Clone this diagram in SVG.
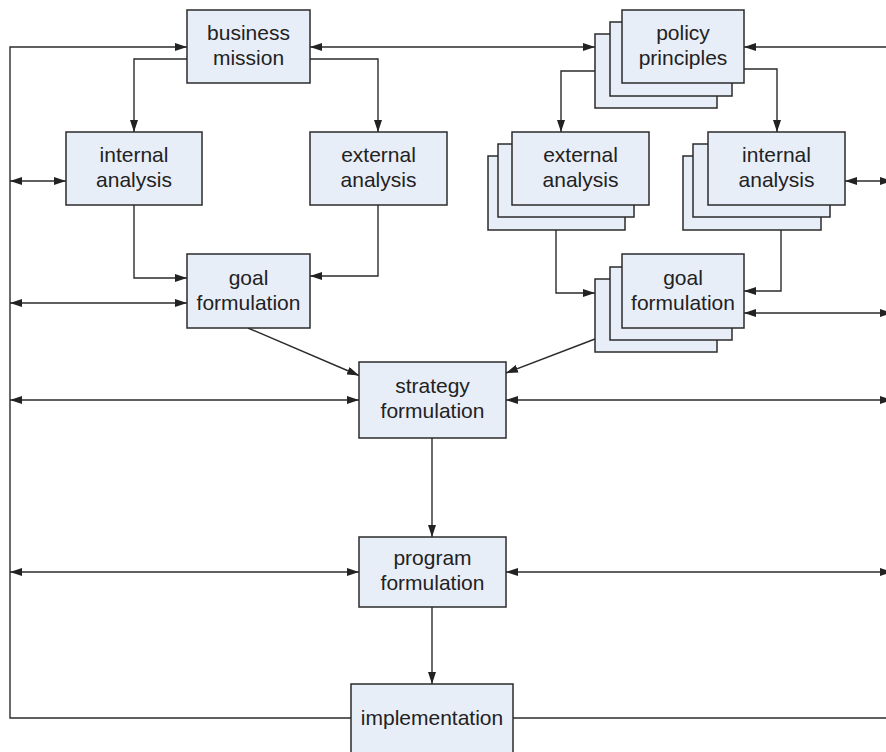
<svg xmlns="http://www.w3.org/2000/svg" width="886" height="752" viewBox="0 0 886 752">
<defs>
<style>
.box{fill:#e8eef8;stroke:#2b2b2b;stroke-width:1.5}
.ln{fill:none;stroke:#2b2b2b;stroke-width:1.4}
.t{font-family:"Liberation Sans",Arial,sans-serif;font-size:21px;fill:#222;text-anchor:middle}
</style>
<marker id="ah" viewBox="0 0 12 8" markerWidth="12" markerHeight="8" refX="12" refY="4" orient="auto-start-reverse" markerUnits="userSpaceOnUse">
<path d="M0,0 L12,4 L0,8 z" fill="#222"/>
</marker>
</defs>
<rect width="886" height="752" fill="#fff"/>
<g id="connectors">
<path class="ln" d="M351,718 H10 V47 H187" marker-end="url(#ah)"/>
<path class="ln" d="M513,718 H886"/>
<path class="ln" d="M10,181 H66" marker-start="url(#ah)" marker-end="url(#ah)"/>
<path class="ln" d="M10,303 H187" marker-start="url(#ah)" marker-end="url(#ah)"/>
<path class="ln" d="M10,400 H359" marker-start="url(#ah)" marker-end="url(#ah)"/>
<path class="ln" d="M10,572 H359" marker-start="url(#ah)" marker-end="url(#ah)"/>
<path class="ln" d="M310,47 H595" marker-start="url(#ah)" marker-end="url(#ah)"/>
<path class="ln" d="M886,47 H744" marker-end="url(#ah)"/>
<path class="ln" d="M845,181 H892" marker-start="url(#ah)" marker-end="url(#ah)"/>
<path class="ln" d="M744,313 H892" marker-start="url(#ah)" marker-end="url(#ah)"/>
<path class="ln" d="M506,400 H892" marker-start="url(#ah)" marker-end="url(#ah)"/>
<path class="ln" d="M506,572 H892" marker-start="url(#ah)" marker-end="url(#ah)"/>
<path class="ln" d="M187,59 H134 V132" marker-end="url(#ah)"/>
<path class="ln" d="M310,59 H378 V132" marker-end="url(#ah)"/>
<path class="ln" d="M134,205 V278 H187" marker-end="url(#ah)"/>
<path class="ln" d="M378,205 V276 H310" marker-end="url(#ah)"/>
<path class="ln" d="M595,71 H561 V132" marker-end="url(#ah)"/>
<path class="ln" d="M744,69 H777 V132" marker-end="url(#ah)"/>
<path class="ln" d="M556,230 V293 H595" marker-end="url(#ah)"/>
<path class="ln" d="M781,230 V291 H744" marker-end="url(#ah)"/>
<path class="ln" d="M248,328 L359,375.5" marker-end="url(#ah)"/>
<path class="ln" d="M595,339 L506,373" marker-end="url(#ah)"/>
<path class="ln" d="M432,438 V537" marker-end="url(#ah)"/>
<path class="ln" d="M432,607 V684" marker-end="url(#ah)"/>
</g>
<g id="business-mission">
<rect class="box" x="187" y="10" width="123" height="73"/>
<text class="t" x="248.5" y="40">business</text>
<text class="t" x="248.5" y="65">mission</text>
</g>
<g id="internal-analysis-left">
<rect class="box" x="66" y="132" width="136" height="73"/>
<text class="t" x="134" y="162">internal</text>
<text class="t" x="134" y="187">analysis</text>
</g>
<g id="external-analysis-left">
<rect class="box" x="310" y="132" width="137" height="73"/>
<text class="t" x="378.5" y="162">external</text>
<text class="t" x="378.5" y="187">analysis</text>
</g>
<g id="goal-formulation-left">
<rect class="box" x="187" y="254" width="123" height="74"/>
<text class="t" x="248.5" y="285">goal</text>
<text class="t" x="248.5" y="310">formulation</text>
</g>
<g id="policy-principles">
<rect class="box" x="595" y="34" width="122" height="74"/>
<rect class="box" x="610" y="22" width="122" height="74"/>
<rect class="box" x="622" y="10" width="122" height="73"/>
<text class="t" x="683" y="40">policy</text>
<text class="t" x="683" y="65">principles</text>
</g>
<g id="external-analysis-right">
<rect class="box" x="488" y="156" width="137" height="74"/>
<rect class="box" x="498" y="144" width="136" height="73"/>
<rect class="box" x="512" y="132" width="137" height="73"/>
<text class="t" x="580.5" y="162">external</text>
<text class="t" x="580.5" y="187">analysis</text>
</g>
<g id="internal-analysis-right">
<rect class="box" x="683" y="156" width="138" height="74"/>
<rect class="box" x="693" y="144" width="137" height="73"/>
<rect class="box" x="708" y="132" width="137" height="73"/>
<text class="t" x="776.5" y="162">internal</text>
<text class="t" x="776.5" y="187">analysis</text>
</g>
<g id="goal-formulation-right">
<rect class="box" x="595" y="279" width="122" height="73"/>
<rect class="box" x="610" y="267" width="122" height="73"/>
<rect class="box" x="622" y="254" width="122" height="74"/>
<text class="t" x="683" y="285">goal</text>
<text class="t" x="683" y="310">formulation</text>
</g>
<g id="strategy-formulation">
<rect class="box" x="359" y="362" width="147" height="76"/>
<text class="t" x="432.5" y="393">strategy</text>
<text class="t" x="432.5" y="418">formulation</text>
</g>
<g id="program-formulation">
<rect class="box" x="359" y="537" width="147" height="70"/>
<text class="t" x="432.5" y="565">program</text>
<text class="t" x="432.5" y="590">formulation</text>
</g>
<g id="implementation">
<rect class="box" x="351" y="684" width="162" height="76"/>
<text class="t" x="432" y="725">implementation</text>
</g>
</svg>
